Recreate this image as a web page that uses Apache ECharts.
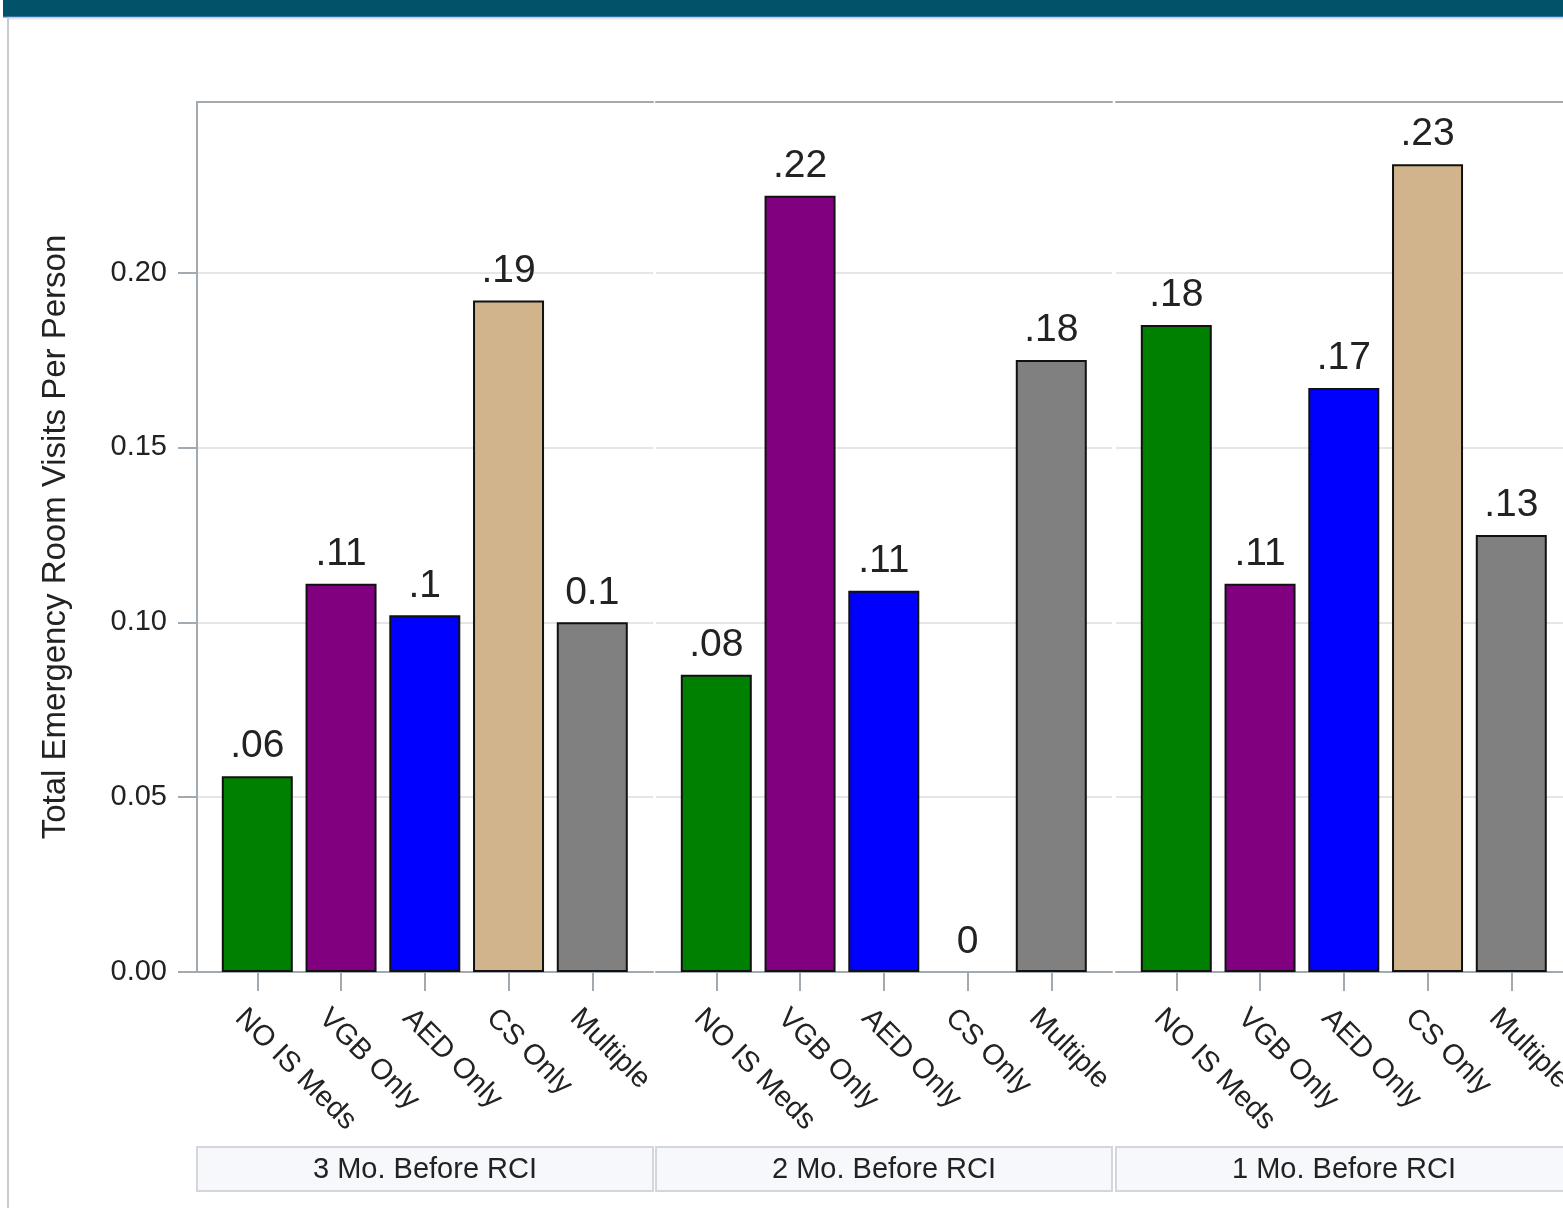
<!DOCTYPE html>
<html><head><meta charset="utf-8">
<script src="https://cdn.jsdelivr.net/npm/echarts@6/dist/echarts.min.js"></script>
<style>html,body{margin:0;padding:0;background:#fff;} #c{width:1563px;height:1208px;}</style>
</head><body><div id="c"></div>
<script>
// ---- data ----
const categories = ['NO IS Meds', 'VGB Only', 'AED Only', 'CS Only', 'Multiple'];
const panels = ['3 Mo. Before RCI', '2 Mo. Before RCI', '1 Mo. Before RCI'];
const values3Mo = [0.056, 0.111, 0.102, 0.192, 0.100];
const values2Mo = [0.085, 0.222, 0.109, 0.000, 0.175];
const values1Mo = [0.185, 0.111, 0.167, 0.231, 0.125];
const labels3Mo = ['.06', '.11', '.1', '.19', '0.1'];
const labels2Mo = ['.08', '.22', '.11', '0', '.18'];
const labels1Mo = ['.18', '.11', '.17', '.23', '.13'];
const yTicks = [0, 0.05, 0.10, 0.15, 0.20];
const yTitle = 'Total Emergency Room Visits Per Person';

// ---- styles ----
const barColors = ['#008000', '#800080', '#0000ff', '#d2b48c', '#808080'];
const FONT = '"Liberation Sans", Arial, sans-serif';
const panelLeft = [197, 656, 1116];
const panelWidth = 456;
const gridTop = 102, gridBottomY = 972;
const xMin = -0.72, xMax = 4.725, yMax = 0.2488;
const catPos = categories.map((c, k) => k);

const valueSets = [values3Mo, values2Mo, values1Mo];
const labelSets = [labels3Mo, labels2Mo, labels1Mo];

const grids = [], xAxes = [], yAxes = [], series = [];
panels.forEach((p, i) => {
  grids.push({left: panelLeft[i], width: panelWidth, top: gridTop, height: gridBottomY - gridTop,
              containLabel: false, outerBoundsMode: 'none'});
  // bottom axis with category ticks and panel strip as name
  xAxes.push({
    type: 'value', gridIndex: i, position: 'bottom', min: xMin, max: xMax,
    splitLine: {show: false},
    axisLine: {show: true, onZero: false, lineStyle: {color: '#a3aaaf', width: 2}},
    axisTick: {show: true, customValues: catPos, interval: 0, length: 19, lineStyle: {color: '#a3aaaf', width: 2}},
    axisLabel: {show: true, customValues: catPos, interval: 0, rotate: -45, margin: 24,
      showMinLabel: true, showMaxLabel: true, hideOverlap: false,
      verticalAlign: 'top', lineHeight: 50,
      fontFamily: FONT, fontSize: 29, color: '#222',
      formatter: v => categories[Math.round(v)]},
    name: p, nameLocation: 'middle', nameGap: 176, nameMoveOverlap: false,
    nameTextStyle: {fontFamily: FONT, fontSize: 29, color: '#222', lineHeight: 33,
      padding: [5, 115, 4, 115],
      backgroundColor: '#f7f8fc', borderColor: '#d3d6da', borderWidth: 2, align: 'center'}
  });
  // top frame line
  xAxes.push({
    type: 'value', gridIndex: i, position: 'top', min: xMin, max: xMax,
    splitLine: {show: false}, axisTick: {show: false}, axisLabel: {show: false},
    axisLine: {show: true, onZero: false, lineStyle: {color: '#a3aaaf', width: 2}}
  });
  yAxes.push({
    type: 'value', gridIndex: i, min: 0, max: yMax, interval: 0.05,
    axisLine: {show: i === 0, onZero: false, lineStyle: {color: '#a3aaaf', width: 2}},
    axisTick: {show: i === 0, customValues: yTicks, length: 19, lineStyle: {color: '#a3aaaf', width: 2}},
    axisLabel: {show: i === 0, customValues: yTicks, margin: 30, fontFamily: FONT, fontSize: 29, color: '#222',
      showMinLabel: true, formatter: v => v.toFixed(2)},
    splitLine: {show: true, lineStyle: {color: '#e6e6e6', width: 2}},
    name: i === 0 ? yTitle : '', nameLocation: 'middle', nameGap: 125, nameRotate: 90, nameMoveOverlap: false,
    nameTextStyle: {fontFamily: FONT, fontSize: 33, color: '#222'}
  });
  series.push({
    type: 'bar', xAxisIndex: i * 2, yAxisIndex: i, barWidth: 71,
    data: valueSets[i].map((v, k) => ({value: [k, v],
      itemStyle: {color: barColors[k], borderWidth: v === 0 ? 0 : 2}})),
    itemStyle: {borderColor: '#111', borderWidth: 2},
    label: {show: true, position: 'top', distance: 10, fontFamily: FONT, fontSize: 39, color: '#222',
      formatter: prm => labelSets[i][prm.dataIndex]},
    emphasis: {disabled: true}, animation: false
  });
});

const chart = echarts.init(document.getElementById('c'), null, {renderer: 'canvas'});
chart.setOption({
  animation: false,
  backgroundColor: '#ffffff',
  grid: grids, xAxis: xAxes, yAxis: yAxes, series: series,
  graphic: [
    {type: 'rect', shape: {x: 3, y: 0, width: 1560, height: 16}, style: {fill: '#02536a'}, silent: true},
    {type: 'rect', shape: {x: 3, y: 16, width: 1560, height: 1.5}, style: {fill: '#2f73a0'}, silent: true},
    {type: 'rect', shape: {x: 9, y: 17.5, width: 1554, height: 2}, style: {fill: '#e3e6ea'}, silent: true},
    {type: 'line', shape: {x1: 8, y1: 17, x2: 8, y2: 1208}, style: {stroke: '#c9cbcd', lineWidth: 2}, silent: true}
  ]
});
</script>
</body></html>
